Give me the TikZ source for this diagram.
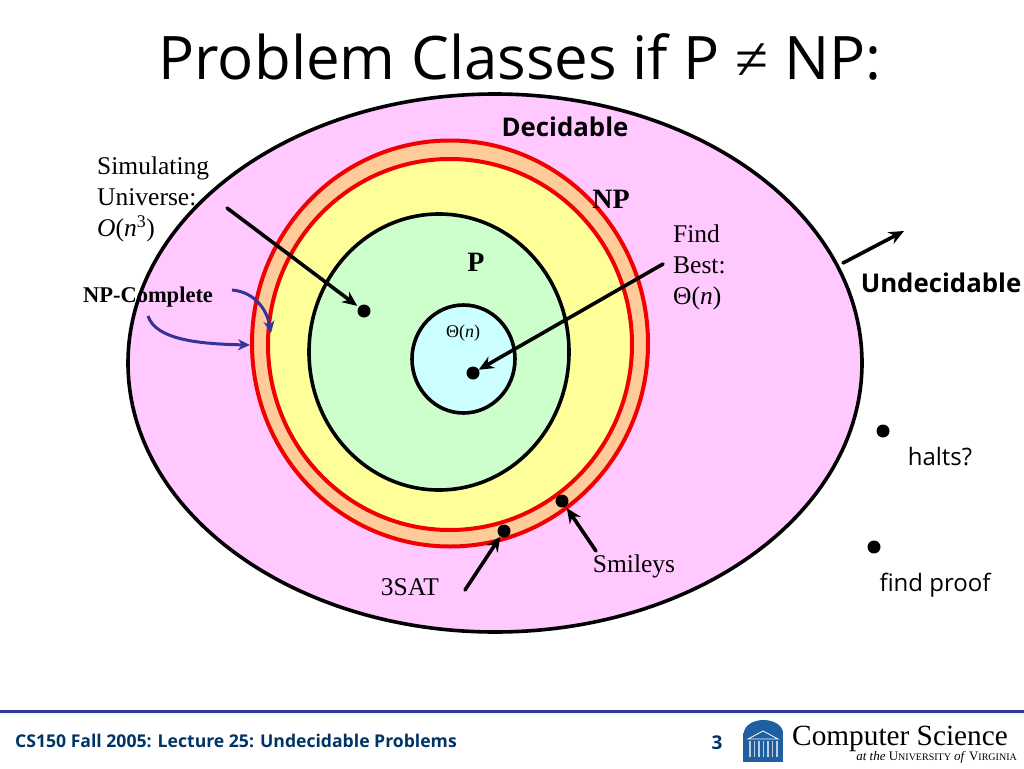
\documentclass[tikz,border=0pt]{standalone}
\usepackage{fontspec}
\usetikzlibrary{arrows.meta}
\setmainfont{Liberation Serif}
\setsansfont{Open Sans}
\definecolor{decpink}{HTML}{FFC8FF}
\definecolor{nporange}{HTML}{FFCC99}
\definecolor{npyellow}{HTML}{FFFF99}
\definecolor{pgreen}{HTML}{CCFFCC}
\definecolor{lincyan}{HTML}{CCFFFF}
\definecolor{npred}{HTML}{F00000}
\definecolor{slideblue}{HTML}{333399}
\definecolor{footnavy}{HTML}{003366}
\definecolor{logoblue}{HTML}{1F5F9F}
\tikzset{
	region/.style={draw=black,line width=3.6pt},
	redring/.style={draw=npred,line width=4pt},
	dotm/.style={circle,fill=black,inner sep=0pt,minimum size=13pt,outer sep=2pt},
	arw/.style={-{Stealth[length=15pt,width=13pt]},line width=3.6pt,line cap=round},
	bluearw/.style={-{Stealth[length=12pt,width=11pt]},draw=slideblue,line width=3pt},
	serif/.style={font=\rmfamily\fontsize{#1}{31}\selectfont,align=left,inner sep=0pt},
	serifb/.style={font=\rmfamily\bfseries\fontsize{#1}{31}\selectfont,inner sep=0pt},
	sans/.style={font=\sffamily\fontsize{#1}{30}\selectfont,inner sep=0pt},
	sansb/.style={font=\sffamily\bfseries\fontsize{#1}{30}\selectfont,inner sep=0pt},
}
\begin{document}
\begin{tikzpicture}[>=stealth,x=1pt,y=-1pt]
	\useasboundingbox (0,0) rectangle (1024,768);
	% nested classes
	\draw[region,fill=decpink] (495,363) ellipse (367 and 269);
	\draw[redring,fill=nporange] (450,343.5) ellipse (198 and 203);
	\draw[redring,fill=npyellow] (450,344.5) ellipse (182 and 185.5);
	\draw[region,fill=pgreen] (439,352) ellipse (130 and 138);
	\draw[region,fill=lincyan] (463.5,359) ellipse (51.5 and 54);
	% texts
	\node[sans=60] (title) at (520,57) {Problem Classes if P {\rmfamily ≠} NP:};
	\node[sansb=25.8] (decidable) at (565,127) {Decidable};
	\node[sansb=25.8] (undecidable) at (941,283) {Undecidable};
	\node[serifb=28] (nplabel) at (611,199) {NP};
	\node[serifb=28] (plabel) at (476,262) {P};
	\node[serifb=22.5] (npcomplete) at (148,297) {NP-Complete};
	\node[serif=18] (lintime) at (463,333) {Θ(\textit{n})};
	\node[serif=25.5,anchor=west] (simtext) at (97,199) {Simulating\\Universe:\\\textit{O}(\textit{n}\textsuperscript{3})};
	\node[serif=25.5,anchor=west] (findtext) at (673,267) {Find\\Best:\\Θ(\textit{n})};
	\node[serif=25.5] (sattext) at (410,587) {3SAT};
	\node[serif=25.5] (smiletext) at (634,566) {Smileys};
	\node[sans=24] (haltstext) at (940,457) {halts?};
	\node[sans=24] (prooftext) at (935,585) {find proof};
	% dots
	\node[dotm] (simdot) at (364,311) {};
	\node[dotm,outer sep=0pt] (lindot) at (473,373) {};
	\node[dotm,outer sep=0pt] (satdot) at (504,531) {};
	\node[dotm] (smiledot) at (562,501) {};
	\node[dotm] (haltsdot) at (883,431) {};
	\node[dotm] (proofdot) at (874,547) {};
	% arrows
	\coordinate (simstart) at (227,208);
	\coordinate (findstart) at (663,264);
	\coordinate (undstart) at (843,263);
	\coordinate (undend) at (904,231);
	\coordinate (satstart) at (465,590);
	\coordinate (smilestart) at (596,551);
	\draw[arw] (simstart) -- (simdot);
	\draw[arw] (findstart) -- (lindot);
	\draw[arw] (undstart) -- (undend);
	\draw[arw] (satstart) -- (satdot);
	\draw[arw] (smilestart) -- (smiledot);
	\coordinate (npastart) at (148,316);
	\coordinate (npaend) at (250,345);
	\coordinate (npbstart) at (232,290);
	\coordinate (npbend) at (271,333);
	\draw[bluearw] (npastart) .. controls (156,340) and (200,344) .. (npaend);
	\draw[bluearw] (npbstart) .. controls (255,292) and (267,310) .. (npbend);
	% footer
	\fill[lincyan!60] (0,712) rectangle (1024,716);
	\fill[slideblue] (0,709.5) rectangle (1024,712.5);
	\node[sansb=17.6,text=footnavy,anchor=west] (course) at (15,741) {CS150 Fall 2005: Lecture 25: Undecidable Problems};
	\node[sansb=19,text=footnavy] (pagenum) at (717,743) {3};
	% logo
	\fill[logoblue] (744,733) arc (180:360:19.5 and 13) -- cycle;
	\fill[logoblue] (743,733) rectangle (783,762);
	\draw[white,line width=0.8pt] (748,739) -- (763,731) -- (778,739) -- cycle;
	\foreach \px in {750,754.5,...,777} {
		\fill[white!70!logoblue] (\px-0.9,741) rectangle (\px+0.9,757);
	}
	\node[serif=29.3,anchor=base west] (logoname) at (792,745) {Computer Science};
	\node[serif=13,anchor=base east] (logosub) at (1017,760) {\textit{at the} U{\fontsize{10}{12}\selectfont NIVERSITY} \textit{of} V{\fontsize{10}{12}\selectfont IRGINIA}};
\end{tikzpicture}
\end{document}
